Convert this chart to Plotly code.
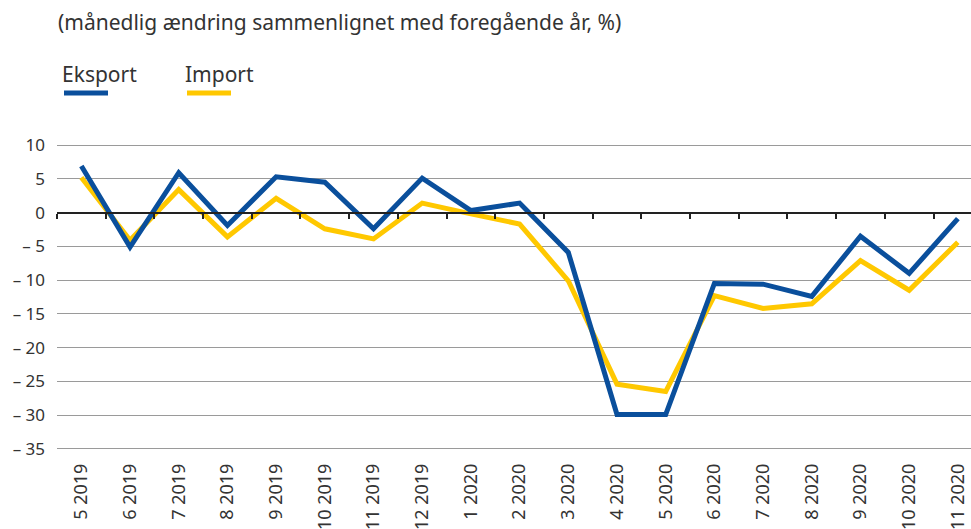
import plotly.graph_objects as go

categories = ["5 2019", "6 2019", "7 2019", "8 2019", "9 2019", "10 2019", "11 2019",
              "12 2019", "1 2020", "2 2020", "3 2020", "4 2020", "5 2020", "6 2020",
              "7 2020", "8 2020", "9 2020", "10 2020", "11 2020"]
eksport = [6.9, -5.1, 5.9, -1.9, 5.3, 4.5, -2.4, 5.1, 0.3, 1.4, -5.9, -29.9, -29.9,
           -10.5, -10.6, -12.4, -3.5, -9.0, -0.9]
importv = [5.2, -4.1, 3.4, -3.6, 2.1, -2.4, -3.9, 1.4, -0.2, -1.7, -10.1, -25.4, -26.5,
           -12.3, -14.2, -13.5, -7.1, -11.5, -4.4]
ytick_vals = [10, 5, 0, -5, -10, -15, -20, -25, -30, -35]
ytick_text = ["10", "5", "0", "– 5", "– 10", "– 15", "– 20", "– 25", "– 30", "– 35"]

BLUE = "#0A4F9C"
YELLOW = "#FFC800"
FONT = "Noto Sans"
TXT = "#333333"

W, H = 971, 529
ML, MR, MT, MB = 57, 0, 143, 78
PW, PH = W - ML - MR, H - MT - MB

ymin, ymax = -35.3, 10.3
zero_pos = (0 - ymin) / (ymax - ymin)


def px_x(px):
    return (px - ML) / PW


def px_y(py):
    return (H - MB - py) / PH


fig = go.Figure()
fig.add_trace(go.Scatter(x=categories, y=importv, mode="lines", name="Import",
                         line=dict(color=YELLOW, width=5), showlegend=False))
fig.add_trace(go.Scatter(x=categories, y=eksport, mode="lines", name="Eksport",
                         line=dict(color=BLUE, width=5), showlegend=False))
# invisible trace on the overlay axis so the zero axis shows its ticks
fig.add_trace(go.Scatter(x=categories, y=[None] * len(categories), xaxis="x2",
                         showlegend=False, hoverinfo="skip"))

fig.update_layout(
    width=W, height=H,
    margin=dict(l=ML, r=MR, t=MT, b=MB, autoexpand=False),
    paper_bgcolor="white", plot_bgcolor="white",
    font=dict(family=FONT, color=TXT),
    xaxis=dict(type="category", categoryorder="array", categoryarray=categories,
               range=[-0.5, 18.27], showgrid=False, zeroline=False, showline=False,
               ticks="", tickangle=-90, automargin=False, ticklabelstandoff=8,
               tickfont=dict(size=18, family=FONT, color=TXT)),
    xaxis2=dict(type="category", categoryorder="array", categoryarray=categories,
                range=[-0.5, 18.27], overlaying="x", anchor="free", position=zero_pos,
                side="bottom", showline=True, linecolor="#222222", linewidth=2,
                ticks="outside", tickson="boundaries", ticklen=5, tickwidth=2,
                tickcolor="#222222", showticklabels=False, showgrid=False,
                automargin=False),
    yaxis=dict(range=[ymin, ymax], tickvals=ytick_vals, ticktext=ytick_text,
               showgrid=True, gridcolor="#9a9a9a", gridwidth=1, zeroline=False,
               showline=False, ticks="", automargin=False,
               tickfont=dict(size=17, family=FONT, color=TXT),
               ticklabelstandoff=11),
)

fig.add_annotation(text="(månedlig ændring sammenlignet med foregående år, %)",
                   xref="paper", yref="paper", x=px_x(56), y=px_y(22),
                   xanchor="left", yanchor="middle", showarrow=False,
                   font=dict(size=21, family=FONT, color=TXT))
fig.add_annotation(text="Eksport", xref="paper", yref="paper",
                   x=px_x(60), y=px_y(74), xanchor="left", yanchor="middle",
                   showarrow=False, font=dict(size=21, family=FONT, color=TXT))
fig.add_annotation(text="Import", xref="paper", yref="paper",
                   x=px_x(183), y=px_y(74), xanchor="left", yanchor="middle",
                   showarrow=False, font=dict(size=21, family=FONT, color=TXT))
fig.add_shape(type="line", xref="paper", yref="paper",
              x0=px_x(64), x1=px_x(108), y0=px_y(93), y1=px_y(93),
              line=dict(color=BLUE, width=5))
fig.add_shape(type="line", xref="paper", yref="paper",
              x0=px_x(187), x1=px_x(231), y0=px_y(93), y1=px_y(93),
              line=dict(color=YELLOW, width=5))

fig.write_html("out.html", config={"displayModeBar": False},
               post_script="document.body.style.margin='0';document.body.style.overflow='hidden';")
